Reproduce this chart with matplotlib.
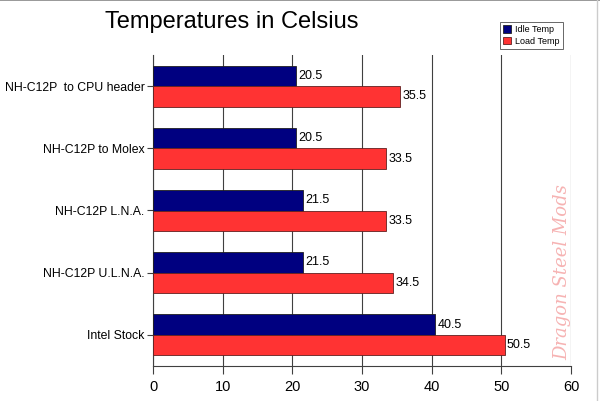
import matplotlib.pyplot as plt
import numpy as np

plt.rcParams['font.family'] = ['Liberation Sans', 'DejaVu Sans']

## Data
setups = ['NH-C12P  to CPU header', 'NH-C12P to Molex', 'NH-C12P L.N.A.',
          'NH-C12P U.L.N.A.', 'Intel Stock']
idle_temp = [20.5, 20.5, 21.5, 21.5, 40.5]
load_temp = [35.5, 33.5, 33.5, 34.5, 50.5]
x_ticks = [0, 10, 20, 30, 40, 50, 60]

fig = plt.figure(figsize=(6, 4.01), dpi=100)
ax = fig.add_axes([153/600, 1-366/401, 418/600, 311/401])

pos = np.arange(len(setups))[::-1]
h = 0.33
ax.barh(pos + h/2, idle_temp, height=h, color='#000080', edgecolor='#202020',
        linewidth=0.6, label='Idle Temp', zorder=3)
ax.barh(pos - h/2, load_temp, height=h, color='#ff3333', edgecolor='#602020',
        linewidth=0.6, label='Load Temp', zorder=3)

for p, v in zip(pos, idle_temp):
    ax.text(v + 0.3, p + h/2, str(v), va='center', ha='left', fontsize=9)
for p, v in zip(pos, load_temp):
    ax.text(v + 0.3, p - h/2, str(v), va='center', ha='left', fontsize=9)

ax.set_xlim(0, 60)
ax.set_ylim(-0.5, len(setups) - 0.5)
ax.set_xticks(x_ticks)
ax.set_xticklabels([str(t) for t in x_ticks], fontsize=10.5)
ax.set_yticks(pos)
ax.set_yticklabels(setups, fontsize=8.8)
ax.tick_params(axis='x', length=6, color='#404040', pad=4)
ax.tick_params(axis='y', length=4, color='#404040', pad=2)
ax.xaxis.grid(True, color='#404040', linewidth=0.8, zorder=0)
for s in ['top', 'right']:
    ax.spines[s].set_visible(False)
for s in ['left', 'bottom']:
    ax.spines[s].set_color('#404040')
    ax.spines[s].set_linewidth(0.8)

fig.text(0.387, 0.945, 'Temperatures in Celsius', ha='center', va='center',
         fontsize=17)

leg = fig.legend(loc='upper left', bbox_to_anchor=(495/600, 1-17/401),
                 fontsize=6.5, frameon=True, fancybox=False, edgecolor='#404040',
                 handlelength=0.9, handleheight=0.9, handletextpad=0.4,
                 borderpad=0.4, labelspacing=0.3)
leg.get_frame().set_linewidth(0.7)

## watermark
fig.text(562/600, 1-272/401, 'Dragon Steel Mods', rotation=90, ha='center',
         va='center', fontsize=13, color='#f4a0a0', alpha=0.8,
         family='DejaVu Serif', style='italic')

## thin border on top and right like the screenshot
fig.add_artist(plt.Line2D([0, 1], [0.999, 0.999], color='#888888', linewidth=1.2))
fig.add_artist(plt.Line2D([597/600, 597/600], [0, 1], color='#cccccc', linewidth=1))

fig.savefig('out.png', dpi=100)
